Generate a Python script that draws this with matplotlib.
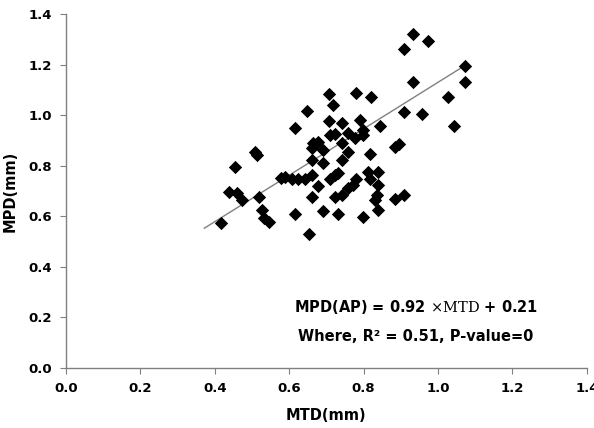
import numpy as np
import matplotlib
matplotlib.use("Agg")
import matplotlib.pyplot as plt

plt.rcParams["mathtext.fontset"] = "dejavuserif"

# MTD (mm) and MPD (mm)
mtd = [0.417, 0.439, 0.454, 0.459, 0.474, 0.508, 0.513, 0.519, 0.526, 0.531,
       0.547, 0.577,
       0.972, 1.073, 1.073, 1.026, 0.958, 1.043, 0.934, 0.909, 0.934,
       0.708, 0.779, 0.819, 0.717, 0.647, 0.616, 0.708, 0.741, 0.789, 0.844,
       0.909, 0.710, 0.723, 0.759, 0.777, 0.799, 0.799, 0.665, 0.678, 0.660,
       0.692, 0.741, 0.759, 0.741, 0.660, 0.692, 0.817, 0.884, 0.896, 0.589,
       0.607, 0.625, 0.643, 0.660, 0.723, 0.732, 0.710, 0.780, 0.772, 0.759,
       0.813, 0.817, 0.840, 0.840, 0.678, 0.660, 0.723, 0.741, 0.835, 0.831,
       0.884, 0.909, 0.616, 0.692, 0.732, 0.799, 0.840, 0.654]
mpd = [0.573, 0.696, 0.795, 0.692, 0.663, 0.855, 0.842, 0.677, 0.624, 0.591,
       0.578, 0.753,
       1.294, 1.194, 1.132, 1.073, 1.003, 0.956, 1.323, 1.260, 1.132,
       1.083, 1.088, 1.070, 1.040, 1.017, 0.950, 0.977, 0.967, 0.980, 0.956,
       1.011, 0.921, 0.925, 0.930, 0.911, 0.940, 0.921, 0.888, 0.894, 0.868,
       0.861, 0.888, 0.855, 0.822, 0.822, 0.809, 0.848, 0.875, 0.885, 0.756,
       0.749, 0.747, 0.747, 0.762, 0.762, 0.769, 0.749, 0.749, 0.723, 0.710,
       0.775, 0.749, 0.775, 0.723, 0.719, 0.677, 0.677, 0.683, 0.683, 0.664,
       0.666, 0.683, 0.608, 0.621, 0.608, 0.597, 0.624, 0.531]

slope, intercept = 0.92, 0.21
fit_x = [0.372, 1.073]

fig = plt.figure(figsize=(5.94, 4.28), dpi=100)
ax = fig.add_axes([0.111, 0.141, 0.877, 0.826])

ax.scatter(mtd, mpd, marker="D", s=46, color="black", zorder=3, linewidths=0)
fx = np.array(fit_x)
ax.plot(fx, slope * fx + intercept, color="#808080", lw=1.0, zorder=2)

ax.set_xlim(0, 1.4)
ax.set_ylim(0, 1.4)
ax.set_xticks(np.arange(0, 1.41, 0.2))
ax.set_yticks(np.arange(0, 1.41, 0.2))
ax.xaxis.set_major_formatter(plt.FormatStrFormatter("%.1f"))
ax.yaxis.set_major_formatter(plt.FormatStrFormatter("%.1f"))

for s in ["top", "right"]:
    ax.spines[s].set_visible(False)
for s in ["left", "bottom"]:
    ax.spines[s].set_color("#808080")
    ax.spines[s].set_linewidth(1.0)
ax.tick_params(axis="both", direction="out", length=4, color="#808080",
               labelsize=9.5, pad=6)
for lab in ax.get_xticklabels() + ax.get_yticklabels():
    lab.set_fontweight("bold")

ax.set_xlabel("MTD(mm)", fontsize=10.5, fontweight="bold", labelpad=10)
ax.set_ylabel("MPD(mm)", fontsize=10.5, fontweight="bold", labelpad=8)

ax.text(0.94, 0.24, r"MPD(AP) = 0.92 $\times\mathrm{MTD}$ + 0.21",
        ha="center", va="center", fontsize=10.5, fontweight="bold")
ax.text(0.94, 0.125, "Where, R\u00b2 = 0.51, P-value=0",
        ha="center", va="center", fontsize=10.5, fontweight="bold")

fig.savefig("out.png", dpi=100)
